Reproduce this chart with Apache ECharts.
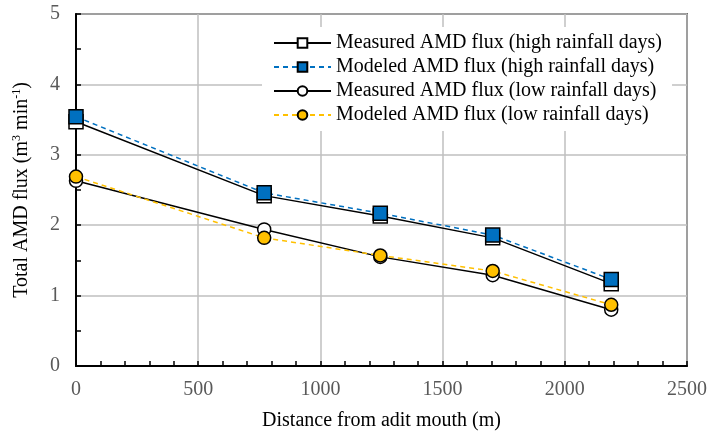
<!DOCTYPE html>
<html>
<head>
<meta charset="utf-8">
<script src="https://cdn.jsdelivr.net/npm/echarts@6/dist/echarts.min.js"></script>
<style>
html, body { margin: 0; padding: 0; background: #fff; }
#main { width: 712px; height: 437px; }
</style>
</head>
<body>
<div id="main"></div>
<script>
// distance from adit mouth (m)
var distance = [0, 770, 1245, 1705, 2190];
var measuredHigh = [3.47, 2.42, 2.13, 1.82, 1.17];
var modeledHigh = [3.54, 2.46, 2.17, 1.86, 1.23];
var measuredLow = [2.63, 1.94, 1.55, 1.29, 0.80];
var modeledLow = [2.69, 1.82, 1.57, 1.35, 0.87];
var seriesNames = [
	'Measured AMD flux (high rainfall days)',
	'Modeled AMD flux (high rainfall days)',
	'Measured AMD flux (low rainfall days)',
	'Modeled AMD flux (low rainfall days)'
];

function pairs(vals) {
	var out = [];
	for (var i = 0; i < distance.length; i++) out.push([distance[i], vals[i]]);
	return out;
}

var font = '"Liberation Serif", "Times New Roman", serif';
var myChart = echarts.init(document.getElementById('main'));

function mkSeries(name, vals, symbol, size, fill, lineColor, dashed) {
	return {
		name: name,
		type: 'line',
		data: pairs(vals),
		symbol: symbol,
		symbolSize: size,
		showAllSymbol: true,
		lineStyle: {
			color: lineColor,
			width: 1.5,
			type: dashed ? [5, 4] : 'solid'
		},
		itemStyle: {
			color: fill,
			borderColor: '#000',
			borderWidth: 1.5
		},
		emphasis: { disabled: true }
	};
}

var option = {
	animation: false,
	textStyle: { fontFamily: font },
	grid: {
		left: 76,
		right: 25,
		top: 14,
		bottom: 71,
		show: true,
		borderColor: '#000',
		borderWidth: 1.5
	},
	legend: {
		left: 262,
		top: 27,
		orient: 'vertical',
		backgroundColor: '#fff',
		padding: [6, 10, 6, 11],
		itemWidth: 57,
		itemHeight: 12,
		itemGap: 4,
		textStyle: { fontFamily: font, fontSize: 20, lineHeight: 20, color: '#000' },
		data: seriesNames
	},
	xAxis: {
		type: 'value',
		min: 0,
		max: 2500,
		interval: 500,
		name: 'Distance from adit mouth (m)',
		nameLocation: 'middle',
		nameGap: 45,
		nameTextStyle: { fontFamily: font, fontSize: 20, color: '#000' },
		axisLine: { lineStyle: { color: '#000', width: 2 } },
		axisTick: { inside: true, length: 5, lineStyle: { color: '#000', width: 1.5 } },
		minorTick: { show: true, splitNumber: 5, length: 5, lineStyle: { color: '#000', width: 1.5 } },
		axisLabel: {
			fontFamily: font, fontSize: 20, color: '#595959', margin: 14,
			formatter: function (v) { return String(v); }
		},
		splitLine: { lineStyle: { color: '#bfbfbf', width: 1.5 } }
	},
	yAxis: {
		type: 'value',
		min: 0,
		max: 5,
		interval: 1,
		name: 'Total AMD flux (m{sup|3} min{sup|-1})',
		nameLocation: 'middle',
		nameRotate: 90,
		nameGap: 44,
		nameTextStyle: {
			fontFamily: font, fontSize: 20, color: '#000',
			rich: { sup: { fontFamily: font, fontSize: 12, color: '#000', padding: [0, 0, 9, 0] } }
		},
		axisLine: { lineStyle: { color: '#000', width: 2 } },
		axisTick: { inside: true, length: 5, lineStyle: { color: '#000', width: 1.5 } },
		minorTick: { show: true, splitNumber: 2, length: 5, lineStyle: { color: '#000', width: 1.5 } },
		axisLabel: { fontFamily: font, fontSize: 20, color: '#595959', margin: 16 },
		splitLine: { lineStyle: { color: '#bfbfbf', width: 1.5 } }
	},
	series: [
		mkSeries(seriesNames[0], measuredHigh, 'rect', 14, '#fff', '#000', false),
		mkSeries(seriesNames[1], modeledHigh, 'rect', 14, '#0070c0', '#0070c0', true),
		mkSeries(seriesNames[2], measuredLow, 'circle', 13, '#fff', '#000', false),
		mkSeries(seriesNames[3], modeledLow, 'circle', 13, '#ffc000', '#ffc000', true)
	]
};

myChart.setOption(option);
window.addEventListener('resize', function () {
	myChart.resize();
});
</script>
</body>
</html>
